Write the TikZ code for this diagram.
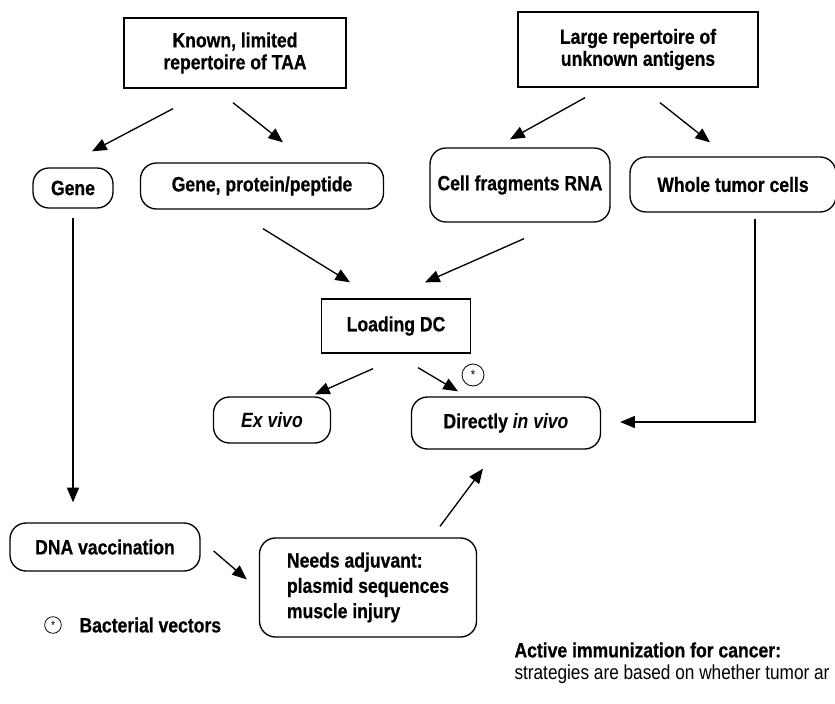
\documentclass[tikz,border=0pt]{standalone}
\usepackage{fontspec}
\setmainfont{Liberation Sans}[FakeStretch=0.85, BoldFeatures={FakeBold=0.6}]
\usetikzlibrary{arrows.meta,calc}

\tikzset{every picture/.style={line width=0.75pt}}
\tikzset{
  sqbox/.style={draw, line width=1pt, inner sep=0.75pt, align=center, font=\fontsize{15.5}{16.5}\selectfont\bfseries},
  rndbox/.style={sqbox, rounded corners=12pt},
  arr/.style={line width=1pt, -{Triangle[length=11pt,width=9pt]}},
  starmark/.style={draw, circle, line width=0.6pt, inner sep=0pt, font=\normalsize}
}

\begin{document}
\begin{tikzpicture}[x=0.75pt,y=0.75pt,yscale=-1,xscale=1]
\useasboundingbox (0,0) rectangle (835,703);
\clip (0,0) rectangle (835,703);

% Text Node
\draw (235,53) node [sqbox, minimum width=166.5pt, minimum height=52.5pt] (known) {Known, limited\\repertoire of TAA};
% Text Node
\draw (638,49.5) node [sqbox, minimum width=180pt, minimum height=56.25pt] (large) {Large repertoire of\\unknown antigens};
% Text Node
\draw (73,188) node [rndbox, minimum width=60pt, minimum height=30pt] (gene) {Gene};
% Text Node
\draw (262,186) node [rndbox, minimum width=182.25pt, minimum height=34.5pt] (genprot) {Gene, protein/peptide};
% Text Node
\draw (520,185) node [rndbox, minimum width=135pt, minimum height=55.5pt] (cellfrag) {Cell fragments RNA};
% Text Node
\draw (733,184.5) node [rndbox, minimum width=154.5pt, minimum height=41.25pt] (whole) {Whole tumor cells};
% Text Node
\draw (396,326) node [sqbox, minimum width=111.75pt, minimum height=40.5pt] (loaddc) {Loading DC};
% Text Node
\draw (272,420) node [rndbox, minimum width=87.75pt, minimum height=34.5pt] (exvivo) {\itshape Ex vivo};
% Text Node
\draw (506,423) node [rndbox, minimum width=141.75pt, minimum height=39pt] (invivo) {Directly \textit{in vivo}};
% Text Node
\draw (105,547) node [rndbox, minimum width=142.5pt, minimum height=36pt] (dnavac) {DNA vaccination};
% Text Node
\draw (368,587.5) node [rndbox, minimum width=162.75pt, minimum height=74.25pt, align=left, font=\fontsize{15.5}{19}\selectfont\bfseries] (adjuv) {Needs adjuvant:\\plasmid sequences\\muscle injury};
% Text Node
\draw (473,375) node [starmark, minimum size=16.5pt] (bact) {*};
% Text Node
\draw (53,625) node [starmark, minimum size=12.5pt, font=\small] (legmark) {*};
% Text Node
\draw (78,625) node [anchor=west, inner sep=0.75pt, font=\fontsize{15.5}{16}\selectfont\bfseries] (legtext) {Bacterial vectors};
% Text Node
\draw (513,650) node [anchor=west, inner sep=0.75pt, font=\fontsize{15.5}{16}\selectfont\bfseries] (captitle) {Active immunization for cancer:};
% Text Node
\draw (513,674) node [anchor=west, inner sep=0.75pt, font=\fontsize{15.2}{16}\selectfont] (captext) {strategies are based on whether tumor ar};

%Straight Lines
\draw [arr] ($(known.south)+(-62,20)$) -- ($(gene.north)+(19,-16)$);
%Straight Lines
\draw [arr] ($(known.south)+(-2,14)$) -- ($(genprot.north)+(21,-20)$);
%Straight Lines
\draw [arr] ($(large.south)+(-53,10)$) -- ($(cellfrag.north)+(-10,-8)$);
%Straight Lines
\draw [arr] ($(large.south)+(22,15)$) -- ($(whole.north)+(-23,-14)$);
%Straight Lines
\draw [arr] ($(genprot.south)+(1,19)$) -- ($(loaddc.north)+(-46,-16)$);
%Straight Lines
\draw [arr] ($(cellfrag.south)+(4,16)$) -- ($(loaddc.north)+(29,-16)$);
%Straight Lines
\draw [arr] ($(whole.south)+(22,6)$) |- ($(invivo.east)+(19,-1)$);
%Straight Lines
\draw [arr] ($(loaddc.south)+(-23,15)$) -- ($(exvivo.north)+(43,-2)$);
%Straight Lines
\draw [arr] ($(loaddc.south)+(22,14)$) -- ($(invivo.north)+(-48,-5)$);
%Straight Lines
\draw [arr] ($(gene.south)+(0,9)$) -- ($(dnavac.north)+(-32,-20)$);
%Straight Lines
\draw [arr] ($(dnavac.east)+(13,4)$) -- ($(adjuv.west)+(-12,-8)$);
%Straight Lines
\draw [arr] ($(adjuv.north)+(72,-11)$) -- ($(invivo.south)+(-23,19)$);

\end{tikzpicture}
\end{document}
